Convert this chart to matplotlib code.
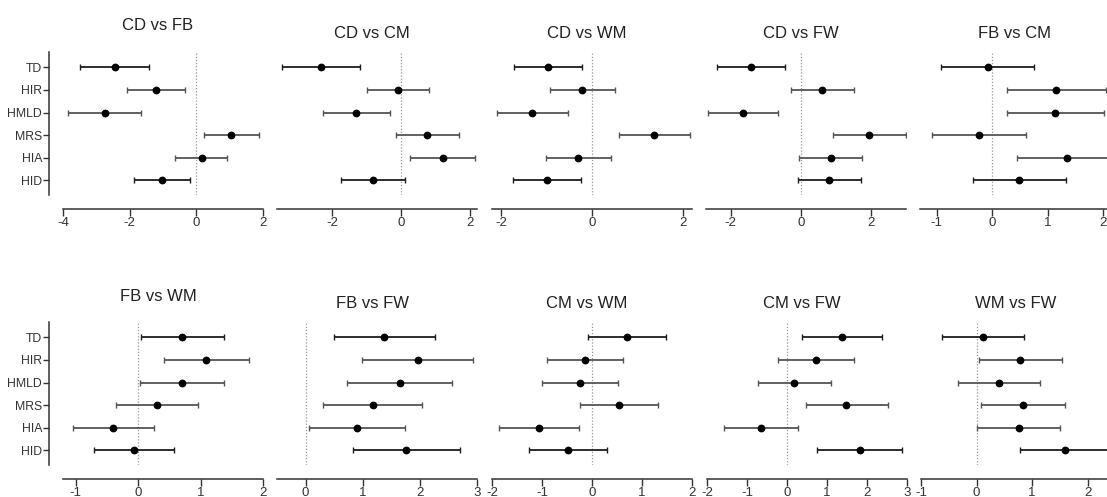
import matplotlib
matplotlib.use("Agg")
import matplotlib.pyplot as plt
import numpy as np

plt.rcParams["font.family"] = ["Liberation Sans", "DejaVu Sans"]
plt.rcParams["axes.unicode_minus"] = False

categories = ["TD", "HIR", "HMLD", "MRS", "HIA", "HID"]

titles = ["CD vs FB", "CD vs CM", "CD vs WM", "CD vs FW", "FB vs CM",
          "FB vs WM", "FB vs FW", "CM vs WM", "CM vs FW", "WM vs FW"]

# estimate, lower CI, upper CI for each comparison
cd_fb = [-2.45, -1.22, -2.75, 1.05, 0.16, -1.04]
cd_fb_lo = [-3.50, -2.07, -3.85, 0.22, -0.63, -1.88]
cd_fb_hi = [-1.43, -0.35, -1.67, 1.89, 0.93, -0.20]

cd_cm = [-2.32, -0.09, -1.30, 0.76, 1.20, -0.82]
cd_cm_lo = [-3.45, -0.98, -2.28, -0.15, 0.26, -1.74]
cd_cm_hi = [-1.19, 0.81, -0.33, 1.68, 2.15, 0.11]

cd_wm = [-0.97, -0.21, -1.31, 1.36, -0.30, -0.99]
cd_wm_lo = [-1.71, -0.93, -2.08, 0.59, -1.01, -1.74]
cd_wm_hi = [-0.23, 0.51, -0.53, 2.15, 0.42, -0.24]

cd_fw = [-1.43, 0.62, -1.65, 1.95, 0.87, 0.81]
cd_fw_lo = [-2.40, -0.27, -2.65, 0.93, -0.04, -0.09]
cd_fw_hi = [-0.46, 1.51, -0.64, 3.00, 1.76, 1.71]

fb_cm = [-0.08, 1.14, 1.13, -0.24, 1.35, 0.49]
fb_cm_lo = [-0.92, 0.26, 0.26, -1.08, 0.44, -0.35]
fb_cm_hi = [0.75, 2.04, 2.01, 0.60, 2.26, 1.33]

fb_wm = [0.71, 1.09, 0.70, 0.30, -0.40, -0.06]
fb_wm_lo = [0.05, 0.41, 0.03, -0.35, -1.04, -0.70]
fb_wm_hi = [1.38, 1.78, 1.37, 0.96, 0.26, 0.58]

fb_fw = [1.38, 1.96, 1.65, 1.18, 0.90, 1.76]
fb_fw_lo = [0.50, 0.99, 0.73, 0.31, 0.06, 0.83]
fb_fw_hi = [2.27, 2.93, 2.56, 2.04, 1.74, 2.70]

cm_wm = [0.69, -0.14, -0.25, 0.53, -1.06, -0.48]
cm_wm_lo = [-0.09, -0.91, -1.01, -0.25, -1.86, -1.26]
cm_wm_hi = [1.48, 0.62, 0.52, 1.31, -0.26, 0.29]

cm_fw = [1.38, 0.73, 0.18, 1.48, -0.65, 1.82]
cm_fw_lo = [0.37, -0.22, -0.72, 0.47, -1.58, 0.74]
cm_fw_hi = [2.38, 1.67, 1.09, 2.52, 0.28, 2.88]

wm_fw = [0.11, 0.79, 0.40, 0.84, 0.77, 1.60]
wm_fw_lo = [-0.62, 0.04, -0.34, 0.08, 0.01, 0.78]
wm_fw_hi = [0.85, 1.54, 1.14, 1.60, 1.51, 2.42]

estimates = [cd_fb, cd_cm, cd_wm, cd_fw, fb_cm, fb_wm, fb_fw, cm_wm, cm_fw, wm_fw]
lowers = [cd_fb_lo, cd_cm_lo, cd_wm_lo, cd_fw_lo, fb_cm_lo,
          fb_wm_lo, fb_fw_lo, cm_wm_lo, cm_fw_lo, wm_fw_lo]
uppers = [cd_fb_hi, cd_cm_hi, cd_wm_hi, cd_fw_hi, fb_cm_hi,
          fb_wm_hi, fb_fw_hi, cm_wm_hi, cm_fw_hi, wm_fw_hi]

xlims = [(-4, 2), (-3.6, 2.2), (-2.2, 2.2), (-2.7, 3.0), (-1.3, 2.3),
         (-1.2, 2), (-0.5, 3), (-2, 2), (-2, 3), (-1, 2.6)]
xticks = [[-4, -2, 0, 2], [-2, 0, 2], [-2, 0, 2], [-2, 0, 2], [-1, 0, 1, 2],
          [-1, 0, 1, 2], [0, 1, 2, 3], [-2, -1, 0, 1, 2], [-2, -1, 0, 1, 2, 3],
          [-1, 0, 1, 2]]

line_colors = ["#1e1e1e", "#555555", "#555555", "#555555", "#555555", "#1e1e1e"]

W, H = 1107, 497
fig = plt.figure(figsize=(W / 100, H / 100), dpi=100)

col_left = [63, 277, 492, 706, 920]
row_top = [52, 322]
ax_w, ax_h = 200, 143

for i in range(10):
    r, c = divmod(i, 5)
    left = col_left[c] + (1 if r == 1 and c >= 3 else 0)
    top = row_top[r]
    ax = fig.add_axes([left / W, 1 - (top + ax_h) / H, ax_w / W, ax_h / H])

    y = np.arange(len(categories))
    est = np.array(estimates[i])
    lo = np.array(lowers[i])
    hi = np.array(uppers[i])

    ax.axvline(0, color="#999999", lw=0.9, ls=(0, (1, 1.5)), zorder=1)
    for k in range(len(categories)):
        ax.errorbar(est[k], y[k], xerr=[[est[k] - lo[k]], [hi[k] - est[k]]],
                    fmt="o", color="black", ms=4.6, ecolor=line_colors[k],
                    elinewidth=1.3, capsize=2.2, capthick=1.0, zorder=3)

    ax.set_xlim(*xlims[i])
    ax.set_xticks(xticks[i])
    ax.set_ylim(5.65, -0.68)
    ax.set_facecolor("none")

    for s in ["top", "right"]:
        ax.spines[s].set_visible(False)
    ax.spines["bottom"].set_position(("outward", 10))
    ax.spines["bottom"].set_linewidth(1.1)
    ax.spines["bottom"].set_color("#333333")
    ax.tick_params(axis="x", length=5, width=1.0, colors="#333333",
                   labelsize=9.5, pad=1)

    if c == 0:
        ax.spines["left"].set_position(("outward", 10))
        ax.spines["left"].set_linewidth(1.1)
        ax.spines["left"].set_color("#333333")
        ax.set_yticks(y)
        ax.set_yticklabels(categories)
        ax.tick_params(axis="y", length=4, width=1.0, colors="#333333",
                       labelsize=8.8, pad=1)
        title_off = 26 if r == 0 else 25.3
    else:
        ax.spines["left"].set_visible(False)
        ax.set_yticks([])
        title_off = 19 if r == 0 else 18.3

    ax.text(95 / ax_w, 1 + title_off / ax_h, titles[i], transform=ax.transAxes,
            ha="center", va="center", fontsize=12, color="#222222")

fig.savefig("out.png", dpi=100)
